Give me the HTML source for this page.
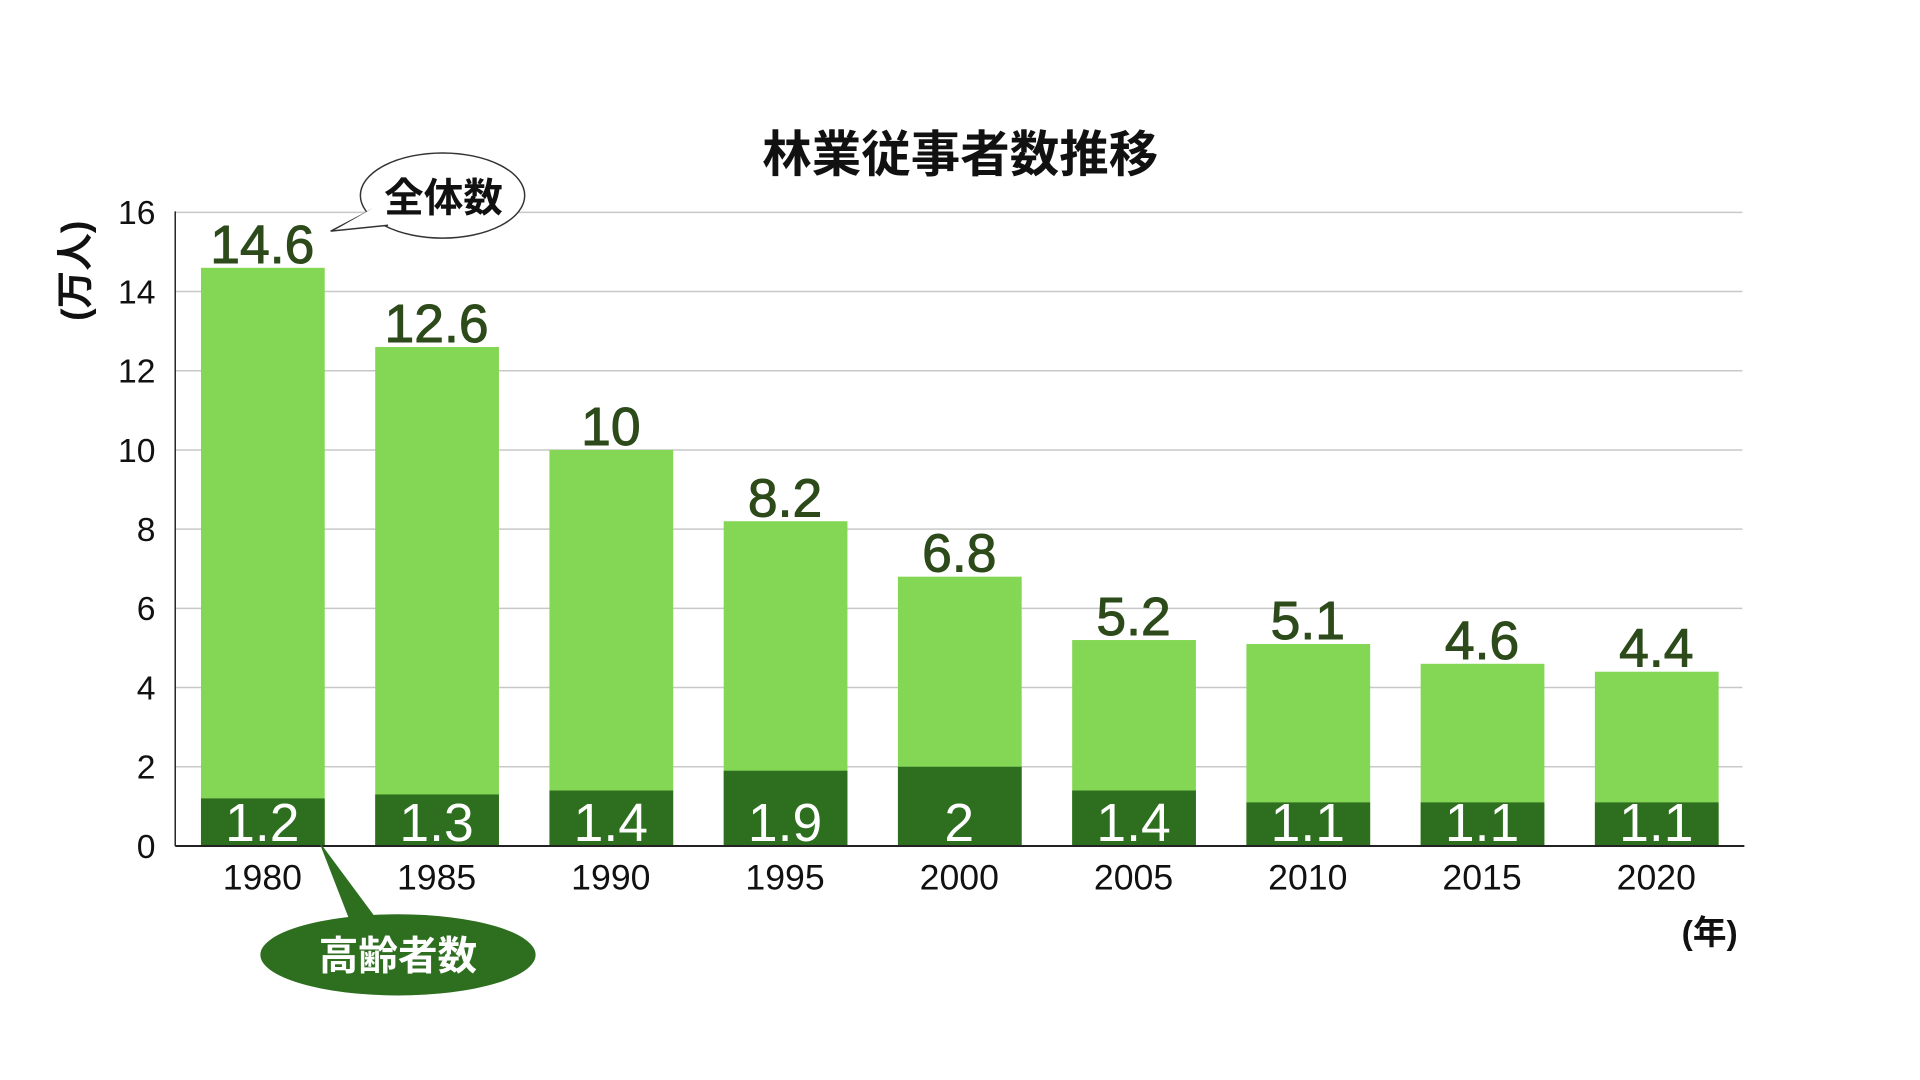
<!DOCTYPE html>
<html><head><meta charset="utf-8"><style>
html,body{margin:0;padding:0;background:#fff}
svg{display:block}
text{font-family:"Liberation Sans","Noto Sans CJK JP",sans-serif}
</style></head><body>
<svg width="1920" height="1080" viewBox="0 0 1920 1080" xmlns="http://www.w3.org/2000/svg">
<g transform="translate(0,-0.5) scale(0.99)">
<text x="970" y="174" font-size="50" font-weight="bold" text-anchor="middle" fill="#111">林業従事者数推移</text>
<g stroke="#c8c8c8" stroke-width="1.5">
<line x1="177" x2="1760" y1="215" y2="215"/><line x1="177" x2="1760" y1="295" y2="295"/>
<line x1="177" x2="1760" y1="375" y2="375"/><line x1="177" x2="1760" y1="455" y2="455"/>
<line x1="177" x2="1760" y1="535" y2="535"/><line x1="177" x2="1760" y1="615" y2="615"/>
<line x1="177" x2="1760" y1="695" y2="695"/><line x1="177" x2="1760" y1="775" y2="775"/>
</g>
<g font-size="34" text-anchor="end" fill="#111">
<text x="157" y="227">16</text><text x="157" y="307">14</text><text x="157" y="387">12</text>
<text x="157" y="467">10</text><text x="157" y="547">8</text><text x="157" y="627">6</text>
<text x="157" y="707">4</text><text x="157" y="787">2</text><text x="157" y="867">0</text>
</g>
<text transform="translate(89,274) rotate(-90)" font-size="38" font-weight="bold" text-anchor="middle" fill="#111">(万人)</text>
<g>
<rect x="203" y="271" width="125" height="584" fill="#84d655"/><rect x="203" y="807" width="125" height="48" fill="#2e6e1f"/>
<rect x="379" y="351" width="125" height="504" fill="#84d655"/><rect x="379" y="803" width="125" height="52" fill="#2e6e1f"/>
<rect x="555" y="455" width="125" height="400" fill="#84d655"/><rect x="555" y="799" width="125" height="56" fill="#2e6e1f"/>
<rect x="731" y="527" width="125" height="328" fill="#84d655"/><rect x="731" y="779" width="125" height="76" fill="#2e6e1f"/>
<rect x="907" y="583" width="125" height="272" fill="#84d655"/><rect x="907" y="775" width="125" height="80" fill="#2e6e1f"/>
<rect x="1083" y="647" width="125" height="208" fill="#84d655"/><rect x="1083" y="799" width="125" height="56" fill="#2e6e1f"/>
<rect x="1259" y="651" width="125" height="204" fill="#84d655"/><rect x="1259" y="811" width="125" height="44" fill="#2e6e1f"/>
<rect x="1435" y="671" width="125" height="184" fill="#84d655"/><rect x="1435" y="811" width="125" height="44" fill="#2e6e1f"/>
<rect x="1611" y="679" width="125" height="176" fill="#84d655"/><rect x="1611" y="811" width="125" height="44" fill="#2e6e1f"/>
</g>
<line x1="177" y1="214" x2="177" y2="855" stroke="#222" stroke-width="1.5"/>
<line x1="177" y1="855" x2="1762" y2="855" stroke="#222" stroke-width="2"/>
<g font-size="54" text-anchor="middle" fill="#2d4a1a" stroke="#2d4a1a" stroke-width="1">
<text x="265" y="266">14.6</text><text x="441" y="346">12.6</text><text x="617" y="450">10</text>
<text x="793" y="522">8.2</text><text x="969" y="578">6.8</text><text x="1145" y="642">5.2</text>
<text x="1321" y="646">5.1</text><text x="1497" y="666">4.6</text><text x="1673" y="674">4.4</text>
</g>
<g font-size="54" text-anchor="middle" fill="#fff">
<text x="265" y="850">1.2</text><text x="441" y="850">1.3</text><text x="617" y="850">1.4</text>
<text x="793" y="850">1.9</text><text x="969" y="850">2</text><text x="1145" y="850">1.4</text>
<text x="1321" y="850">1.1</text><text x="1497" y="850">1.1</text><text x="1673" y="850">1.1</text>
</g>
<g font-size="36" text-anchor="middle" fill="#111">
<text x="265" y="899">1980</text><text x="441" y="899">1985</text><text x="617" y="899">1990</text>
<text x="793" y="899">1995</text><text x="969" y="899">2000</text><text x="1145" y="899">2005</text>
<text x="1321" y="899">2010</text><text x="1497" y="899">2015</text><text x="1673" y="899">2020</text>
</g>
<text x="1727" y="954" font-size="34" font-weight="bold" text-anchor="middle" fill="#111">(年)</text>
<ellipse cx="447" cy="198" rx="83" ry="43" fill="#fff" stroke="#333" stroke-width="1.5"/>
<path d="M376,212 L334,234 L392,228" fill="#fff" stroke="#333" stroke-width="1.5"/>
<path d="M378,210 L340,232 L396,225 Z" fill="#fff"/>
<text x="448" y="214" font-size="40" font-weight="bold" text-anchor="middle" fill="#111">全体数</text>
<path d="M322,850 L355,935 L385,935 Z" fill="#2e6e1f"/>
<ellipse cx="402" cy="965" rx="139" ry="41" fill="#2e6e1f"/>
<text x="402" y="980" font-size="40" font-weight="bold" text-anchor="middle" fill="#fff">高齢者数</text>
</g>
</svg>
</body></html>
